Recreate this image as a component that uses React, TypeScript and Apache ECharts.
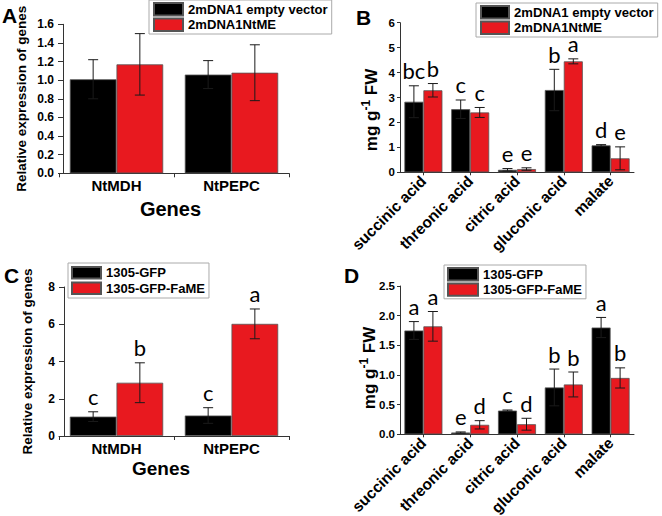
import React, { useEffect, useRef } from "react";
import * as echarts from "echarts";

// ---------- data ----------
const genes = ["NtMDH", "NtPEPC"];
const acids = ["succinic acid", "threonic acid", "citric acid", "gluconic acid", "malate"];

const nameEmpty = "2mDNA1 empty vector";
const nameNtME = "2mDNA1NtME";
const nameGFP = "1305-GFP";
const nameFaME = "1305-GFP-FaME";

// Panel A
const aEmpty = [1.01, 1.06];
const aEmptyErr = [0.21, 0.15];
const aNtME = [1.17, 1.08];
const aNtMEErr = [0.33, 0.3];

// Panel B
const bEmpty = [2.83, 2.53, 0.1, 3.3, 1.08];
const bEmptyErr = [0.64, 0.37, 0.05, 0.83, 0.03];
const bNtME = [3.29, 2.4, 0.13, 4.45, 0.56];
const bNtMEErr = [0.27, 0.2, 0.05, 0.1, 0.46];
const bEmptySig = ["bc", "c", "e", "b", "d"];
const bNtMESig = ["b", "c", "e", "a", "e"];

// Panel C
const cGFP = [1.04, 1.1];
const cGFPErr = [0.26, 0.42];
const cFaME = [2.86, 6.02];
const cFaMEErr = [1.07, 0.8];
const cGFPSig = ["c", "c"];
const cFaMESig = ["b", "a"];

// Panel D
const dGFP = [1.75, 0.03, 0.4, 0.79, 1.8];
const dGFPErr = [0.15, 0.01, 0.01, 0.31, 0.17];
const dFaME = [1.82, 0.16, 0.17, 0.84, 0.95];
const dFaMEErr = [0.25, 0.07, 0.1, 0.21, 0.17];
const dGFPSig = ["a", "e", "c", "b", "a"];
const dFaMESig = ["a", "d", "d", "b", "b"];

// y-axis scales
const yMax = [1.6, 6, 8, 2.5];
const yInterval = [0.2, 1, 2, 0.5];

// ---------- style ----------
const FONT = "'Liberation Sans', Arial, sans-serif";
const SIGFONT = "Lato, 'Open Sans', sans-serif";
const RED = "#e8191f";
const BLACK = "#000000";
const BAR_FRAC = 0.406;

// pick a font size so that a bold text spans the target width
function fitFont(text: string, target: number, fallback: number) {
  try {
    const ctx = document.createElement("canvas").getContext("2d");
    if (!ctx) return fallback;
    ctx.font = "bold 20px 'Liberation Sans', Arial, sans-serif";
    const w = ctx.measureText(text).width;
    if (!w) return fallback;
    return Math.round(((20 * target) / w) * 10) / 10;
  } catch (e) {
    return fallback;
  }
}

function barSeries(idx: number, name: string, data: number[], color: string) {
  return {
    type: "bar",
    name,
    xAxisIndex: idx,
    yAxisIndex: idx,
    data,
    barWidth: BAR_FRAC * 100 + "%",
    barGap: "0%",
    itemStyle: { color, borderColor: "#555", borderWidth: 0.8 },
  };
}

function errSeries(
  idx: number,
  v1: number[], e1: number[], v2: number[], e2: number[],
  sig1: string[] | null, sig2: string[] | null
) {
  return {
    type: "custom",
    xAxisIndex: idx,
    yAxisIndex: idx,
    silent: true,
    z: 10,
    data: v1.map((_, k) => [k, v1[k], e1[k], v2[k], e2[k]]),
    encode: { x: 0, y: [1, 3] },
    renderItem: (params: any, api: any) => {
      const k = api.value(0);
      const band = api.size([1, 0])[0];
      const bw = band * BAR_FRAC;
      const children: any[] = [];
      const groups: [number, number, string[] | null, number][] = [
        [v1[k], e1[k], sig1, -1],
        [v2[k], e2[k], sig2, 1],
      ];
      groups.forEach(([v, e, sig, dir]) => {
        const cx = api.coord([k, 0])[0] + (dir * bw) / 2;
        const yTop = api.coord([k, v + e])[1];
        const yBot = api.coord([k, Math.max(v - e, 0)])[1];
        const ls = { stroke: "#1a1a1a", lineWidth: 1 };
        children.push({ type: "line", shape: { x1: cx, y1: yTop, x2: cx, y2: yBot }, style: ls });
        children.push({ type: "line", shape: { x1: cx - 5, y1: yTop, x2: cx + 5, y2: yTop }, style: ls });
        children.push({ type: "line", shape: { x1: cx - 5, y1: yBot, x2: cx + 5, y2: yBot }, style: ls });
        if (sig) {
          children.push({
            type: "text",
            x: cx,
            y: yTop - 6,
            style: {
              text: sig[k],
              fill: "#000",
              fontSize: 22,
              lineHeight: 18,
              fontFamily: SIGFONT,
              align: "center",
              verticalAlign: "bottom",
              textAlign: "center",
              textVerticalAlign: "bottom",
            },
          });
        }
      });
      return { type: "group", children };
    },
  };
}

function legend(left: number, top: number, names: string[], iw: number, ih: number, gap: number, pad: number[], fs: number) {
  return {
    left,
    top,
    orient: "vertical",
    data: names,
    itemWidth: iw,
    itemHeight: ih,
    itemGap: gap,
    padding: pad,
    borderColor: "#aaaaaa",
    borderWidth: 1,
    borderRadius: 0,
    icon: "rect",
    selectedMode: false,
    textStyle: { fontFamily: FONT, fontWeight: "bold", fontSize: fs, color: "#000" },
  };
}

function yAxis(idx: number, labelSize: number, margin: number, tickLen: number, extra: any = {}) {
  return {
    type: "value",
    gridIndex: idx,
    min: 0,
    max: yMax[idx],
    interval: yInterval[idx],
    splitLine: { show: false },
    axisLine: { show: true, lineStyle: { color: "#333", width: 1 } },
    axisTick: { show: true, length: tickLen, lineStyle: { color: "#333" } },
    axisLabel: {
      fontFamily: FONT,
      fontWeight: "bold",
      fontSize: labelSize,
      color: "#000",
      margin,
      formatter: (v: number) => (idx === 0 || idx === 3 ? v.toFixed(1) : String(v)),
    },
    ...extra,
  };
}

function xAxisGenes(idx: number, nameSize: number, nameGap: number, padRight: number) {
  return {
    type: "category",
    gridIndex: idx,
    data: genes,
    axisLine: { show: true, lineStyle: { color: "#333", width: 1 } },
    axisTick: { show: true, length: 4, lineStyle: { color: "#333" } },
    axisLabel: { fontFamily: FONT, fontWeight: "bold", fontSize: 15, color: "#000", margin: 5 },
    name: "Genes",
    nameLocation: "middle",
    nameGap,
    nameTextStyle: {
      fontFamily: FONT,
      fontWeight: "bold",
      fontSize: nameSize,
      color: "#000",
      padding: [0, padRight, 0, 0],
    },
  };
}

function xAxisAcids(idx: number) {
  return {
    type: "category",
    gridIndex: idx,
    data: acids,
    axisLine: { show: true, lineStyle: { color: "#333", width: 1 } },
    axisTick: { show: true, length: 3, alignWithLabel: true, lineStyle: { color: "#333" } },
    axisLabel: {
      fontFamily: FONT,
      fontWeight: "bold",
      fontSize: 15.5,
      color: "#000",
      rotate: 45,
      margin: 6,
      interval: 0,
    },
  };
}

function unitTitle(x: number, y: number) {
  return {
    type: "text",
    x,
    y,
    rotation: Math.PI / 2,
    style: {
      text: "{a|mg g}{b|-1}{a| FW}",
      fontFamily: FONT,
      fontWeight: "bold",
      fontSize: 17,
      align: "center",
      verticalAlign: "middle",
      textAlign: "center",
      textVerticalAlign: "middle",
      fill: "#000",
      rich: {
        a: { fontFamily: FONT, fontWeight: "bold", fontSize: 17, lineHeight: 22, fill: "#000" },
        b: { fontFamily: FONT, fontWeight: "bold", fontSize: 12, lineHeight: 22, verticalAlign: "top", fill: "#000" },
      },
    },
  };
}

function panelLetter(text: string, x: number, y: number) {
  return {
    type: "text",
    x,
    y,
    style: {
      text,
      fontFamily: FONT,
      fontWeight: "bold",
      fontSize: 21,
      fill: "#000",
      align: "left",
      verticalAlign: "middle",
      textAlign: "left",
      textVerticalAlign: "middle",
    },
  };
}

export default function App() {
  const ref = useRef<HTMLDivElement>(null);
  useEffect(() => {
    if (!ref.current) return;
    const chart = echarts.init(ref.current, null, { renderer: "svg", width: 662, height: 516 });
    const fsAB = fitFont(nameEmpty, 140, 13);
    const fsCD = fitFont(nameFaME, 99, 13);
    const option: any = {
      animation: false,
      backgroundColor: "#ffffff",
      grid: [
        { left: 59, top: 24.3, width: 230, height: 149, outerBoundsMode: "none" },
        { left: 400, top: 22.7, width: 234, height: 149.6, outerBoundsMode: "none" },
        { left: 59, top: 287, width: 230, height: 149, outerBoundsMode: "none" },
        { left: 400, top: 286, width: 234, height: 148.3, outerBoundsMode: "none" },
      ],
      xAxis: [
        xAxisGenes(0, 20, 26, 7),
        xAxisAcids(1),
        xAxisGenes(2, 19, 23, 26),
        xAxisAcids(3),
      ],
      yAxis: [
        yAxis(0, 12, 9, 5, {
          offset: -4,
          name: "Relative expression of genes",
          nameLocation: "middle",
          nameGap: 35,
          nameTextStyle: { fontFamily: FONT, fontWeight: "bold", fontSize: 13.5, color: "#000" },
        }),
        yAxis(1, 11.5, 5, 3),
        yAxis(2, 12, 9, 5, {
          offset: -5,
          name: "Relative expression of genes",
          nameLocation: "middle",
          nameGap: 30,
          nameTextStyle: { fontFamily: FONT, fontWeight: "bold", fontSize: 13.5, color: "#000" },
        }),
        yAxis(3, 11.5, 5, 3),
      ],
      legend: [
        legend(149, 0, [nameEmpty, nameNtME], 29, 12.5, 1, [2, 4, 2, 4], fsAB),
        legend(476, 3, [nameEmpty, nameNtME], 28, 12.5, 1, [2, 4, 2, 4], fsAB),
        legend(68, 263, [nameGFP, nameFaME], 29, 11.5, 2, [3, 4, 3, 3], fsCD),
        legend(444, 265, [nameGFP, nameFaME], 30, 12.4, 1, [2, 4, 2, 3], fsCD),
      ],
      series: [
        barSeries(0, nameEmpty, aEmpty, BLACK),
        barSeries(0, nameNtME, aNtME, RED),
        errSeries(0, aEmpty, aEmptyErr, aNtME, aNtMEErr, null, null),
        barSeries(1, nameEmpty, bEmpty, BLACK),
        barSeries(1, nameNtME, bNtME, RED),
        errSeries(1, bEmpty, bEmptyErr, bNtME, bNtMEErr, bEmptySig, bNtMESig),
        barSeries(2, nameGFP, cGFP, BLACK),
        barSeries(2, nameFaME, cFaME, RED),
        errSeries(2, cGFP, cGFPErr, cFaME, cFaMEErr, cGFPSig, cFaMESig),
        barSeries(3, nameGFP, dGFP, BLACK),
        barSeries(3, nameFaME, dFaME, RED),
        errSeries(3, dGFP, dGFPErr, dFaME, dFaMEErr, dGFPSig, dFaMESig),
      ],
      graphic: [
        panelLetter("A", 2, 15),
        panelLetter("B", 356, 17),
        panelLetter("C", 4, 275),
        panelLetter("D", 344, 275),
        unitTitle(371, 110),
        unitTitle(369, 368),
      ],
    };
    chart.setOption(option);
    return () => chart.dispose();
  }, []);
  return (
    <div
      ref={ref}
      style={{ position: "absolute", left: 0, top: 0, width: 662, height: 516, background: "#fff" }}
    />
  );
}
